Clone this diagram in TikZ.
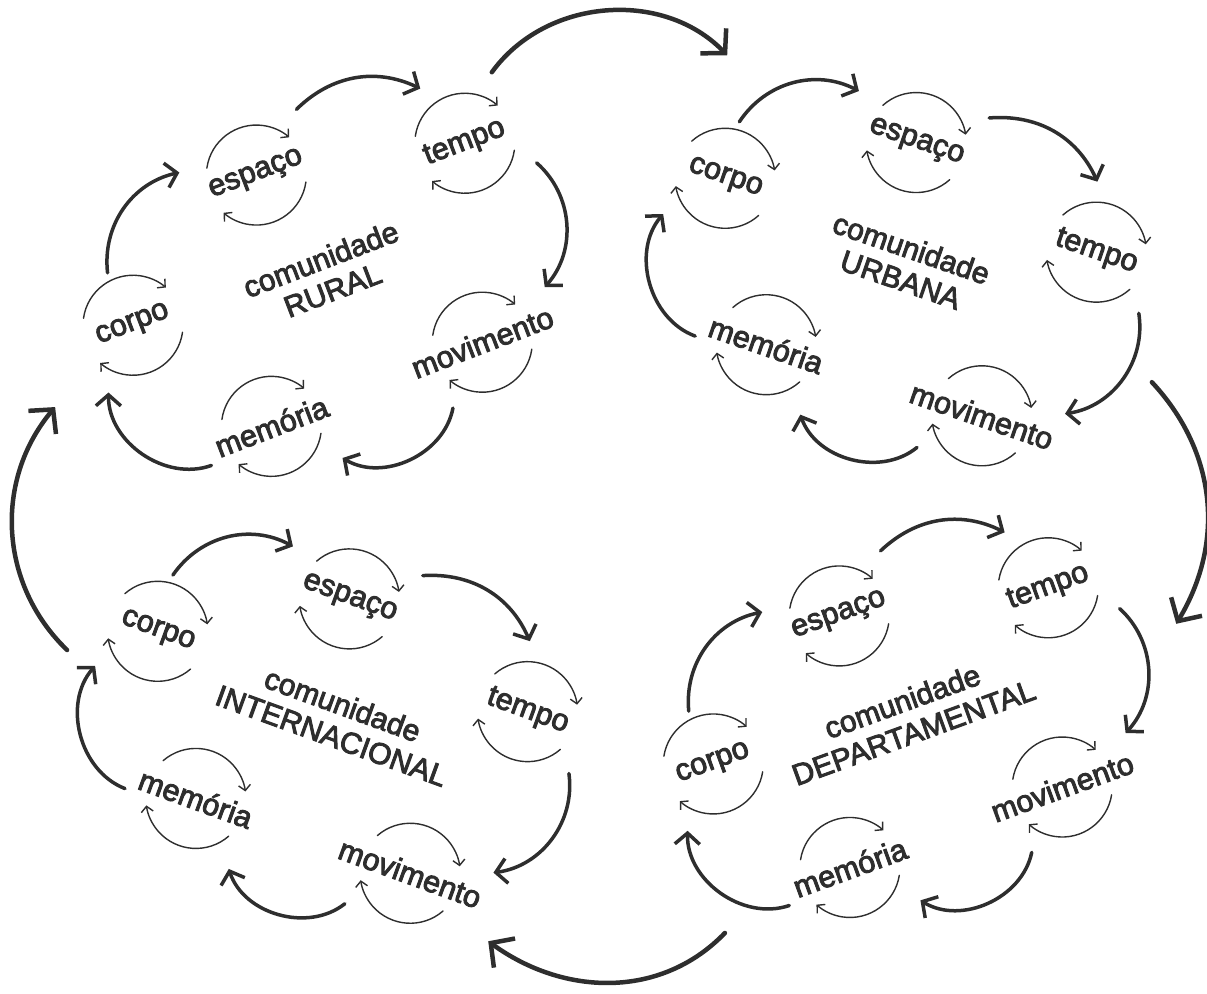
\documentclass[tikz,border=0pt]{standalone}
\usepackage{fontspec}
\setmainfont{Liberation Sans}
\newfontfamily\wordfont{Liberation Sans}[RawFeature={embolden=3}]
\usetikzlibrary{arrows.meta}
\definecolor{ink}{HTML}{2E2E2E}
\tikzset{
  word/.style={font=\wordfont\fontsize{30.5}{30.5}\selectfont, text=ink, inner sep=0pt},
  centrelabel/.style={font=\wordfont\fontsize{30}{33}\selectfont, text=ink, align=center, inner sep=0pt},
  thinarc/.style={draw=ink, line width=1.4pt, line cap=round, -{Straight Barb[length=5.5pt,width=12pt]}},
  looparrow/.style={draw=ink, line width=3.5pt, line cap=round, -{Straight Barb[length=11pt,width=25pt]}},
  bigarrow/.style={draw=ink, line width=4.5pt, line cap=round, -{Straight Barb[length=17pt,width=36pt]}},
}
\newcommand\wordloops[1]{%
  \draw[thinarc] (#1) ++(151:50) arc[start angle=151,end angle=28,radius=50];
  \draw[thinarc] (#1) ++(-29:50) arc[start angle=-29,end angle=-152,radius=50];}
\newcommand\drawcloud[6]{%
\begin{scope}[shift={(#2,#3)},rotate=#4,transform shape]
  \node[word] (c#1) at (-191,27) {corpo};
  \node[word] (e#1) at (-22,123) {espaço};
  \node[word] (t#1) at (184,78) {tempo};
  \node[word] (v#1) at (129,-114) {movimento};
  \node[word] (m#1) at (-98,-117) {memória};
  \node[centrelabel] (l#1) at (8,5) {#5\\#6};
  \wordloops{c#1}\wordloops{e#1}\wordloops{t#1}\wordloops{v#1}\wordloops{m#1}
  \path (c#1) ++(-5,58) coordinate (c#1o)
        (e#1) ++(-71,30) coordinate (e#1i)
        (e#1) ++(61,47) coordinate (e#1o)
        (t#1) ++(-22,67) coordinate (t#1i)
        (t#1) ++(60,-44) coordinate (t#1o)
        (v#1) ++(78,29) coordinate (v#1i)
        (v#1) ++(-51,-51) coordinate (v#1o)
        (m#1) ++(55,-55) coordinate (m#1i)
        (m#1) ++(-70,-15) coordinate (m#1o)
        (c#1) ++(-47,-54) coordinate (c#1i);
  \draw[looparrow] (c#1o) to[bend left=42] (e#1i);
  \draw[looparrow] (e#1o) to[bend left=35] (t#1i);
  \draw[looparrow] (t#1o) to[bend left=45] (v#1i);
  \draw[looparrow] (v#1o) to[bend left=55] (m#1i);
  \draw[looparrow] (m#1o) to[bend left=55] (c#1i);
\end{scope}}

\begin{document}
\begin{tikzpicture}[x=1pt,y=1pt]
\useasboundingbox (0,0) rectangle (1207,-993);
\drawcloud{R}{321}{-282}{21}{comunidade}{RURAL}
\drawcloud{U}{897}{-266}{-19}{comunidade}{URBANA}
\drawcloud{D}{902}{-724}{20}{comunidade}{DEPARTAMENTAL}
\drawcloud{I}{328}{-722}{-20}{comunidade}{INTERNACIONAL}
\path (tR) ++(27,71) coordinate (RUs)
      (cU) ++(2,123) coordinate (RUe)
      (tU) ++(55.5,-130) coordinate (UDs)
      (tD) ++(128,-36) coordinate (UDe)
      (mD) ++(-125,-65.5) coordinate (DIs)
      (vI) ++(78,-68) coordinate (DIe)
      (cI) ++(-90.7,-18.7) coordinate (IRs)
      (cR) ++(-77.9,-81.8) coordinate (IRe);
\draw[bigarrow] (RUs) to[out=54,in=134] (RUe);
\draw[bigarrow] (UDs) to[out=-47,in=59] (UDe);
\draw[bigarrow] (DIs) to[out=226,in=-36] (DIe);
\draw[bigarrow] (IRs) to[out=136,in=230] (IRe);
\end{tikzpicture}
\end{document}
